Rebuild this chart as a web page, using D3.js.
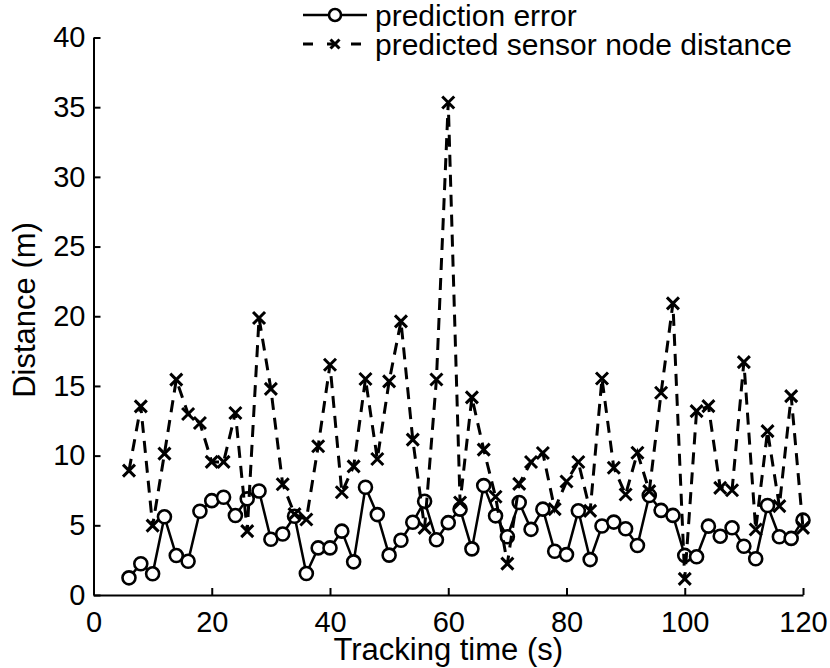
<!DOCTYPE html>
<html>
<head>
<meta charset="utf-8">
<script src="https://cdn.jsdelivr.net/npm/d3@7"></script>
<style>
  body { margin: 0; background: #fff; }
  text { font-family: "Liberation Sans", Arial, sans-serif; fill: #000; }
</style>
</head>
<body>
<div id="chart"></div>
<script>
// tracking time (s)
const time = [6, 8, 10, 12, 14, 16, 18, 20, 22, 24, 26, 28, 30, 32, 34, 36, 38, 40, 42, 44,
              46, 48, 50, 52, 54, 56, 58, 60, 62, 64, 66, 68, 70, 72, 74, 76, 78, 80, 82, 84,
              86, 88, 90, 92, 94, 96, 98, 100, 102, 104, 106, 108, 110, 112, 114, 116, 118, 120];

// prediction error (m)
const predError = [1.23, 2.24, 1.52, 5.61, 2.83, 2.42, 6.01, 6.77, 7.01, 5.70, 6.90, 7.46, 4.00, 4.38, 5.65, 1.54, 3.38, 3.38, 4.58, 2.38,
                   7.73, 5.77, 2.86, 3.93, 5.22, 6.73, 3.96, 5.19, 6.16, 3.31, 7.85, 5.68, 4.18, 6.64, 4.71, 6.16, 3.14, 2.90, 6.04, 2.54,
                   4.95, 5.23, 4.75, 3.55, 7.14, 6.07, 5.71, 2.84, 2.74, 4.94, 4.22, 4.82, 3.50, 2.60, 6.42, 4.18, 4.06, 5.37];

// predicted sensor node distance (m)
const nodeDist = [8.92, 13.53, 4.98, 10.14, 15.45, 12.99, 12.34, 9.55, 9.55, 13.06, 4.58, 19.87, 14.79, 7.95, 5.80, 5.42, 10.67, 16.52, 7.37, 9.23,
                  15.50, 9.76, 15.33, 19.63, 11.15, 4.82, 15.46, 35.34, 6.64, 14.18, 10.43, 7.05, 2.25, 7.97, 9.54, 10.19, 6.16, 8.14, 9.54, 6.04,
                  15.53, 9.13, 7.21, 10.21, 7.45, 14.51, 20.92, 1.16, 13.19, 13.55, 7.69, 7.52, 16.71, 4.70, 11.76, 6.38, 14.27, 4.82];

const xTicks = [0, 20, 40, 60, 80, 100, 120];
const yTicks = [0, 5, 10, 15, 20, 25, 30, 35, 40];
const legendLabels = ["prediction error", "predicted sensor node distance"];

const W = 830, H = 668;
const margin = { top: 37.5, right: 27, bottom: 73, left: 93.5 };

const svg = d3.select("#chart").append("svg")
    .attr("width", W)
    .attr("height", H)
    .style("background", "#fff");

const x = d3.scaleLinear().domain([0, 120]).range([margin.left, W - margin.right]);
const y = d3.scaleLinear().domain([0, 40]).range([H - margin.bottom, margin.top]);

const errData = time.map((t, i) => ({ t: t, v: predError[i] }));
const distData = time.map((t, i) => ({ t: t, v: nodeDist[i] }));

// axes, ticks pointing inward like matlab
const xAxis = svg.append("g")
    .attr("transform", "translate(0," + y(0) + ")")
    .call(d3.axisBottom(x).tickValues(xTicks).tickSizeInner(-7).tickSizeOuter(0).tickPadding(16));

const yAxis = svg.append("g")
    .attr("transform", "translate(" + x(0) + ",0)")
    .call(d3.axisLeft(y).tickValues(yTicks).tickSizeInner(-7).tickSizeOuter(0).tickPadding(8));

[xAxis, yAxis].forEach(a => {
    a.selectAll("path, line").attr("stroke", "#000").attr("stroke-width", 2);
    a.selectAll("text").style("font-size", "29px").attr("fill", "#000");
});

svg.append("text")
    .attr("x", (x(0) + x(120)) / 2)
    .attr("y", 660)
    .attr("text-anchor", "middle")
    .style("font-size", "31px")
    .text("Tracking time (s)");

svg.append("text")
    .attr("transform", "translate(35,310) rotate(-90)")
    .attr("text-anchor", "middle")
    .style("font-size", "31px")
    .text("Distance (m)");

const line = d3.line().x(d => x(d.t)).y(d => y(d.v));

// prediction error: solid with circles
svg.append("path")
    .datum(errData)
    .attr("d", line)
    .attr("fill", "none")
    .attr("stroke", "#000")
    .attr("stroke-width", 2.5);

svg.selectAll(".circ")
    .data(errData)
    .enter()
    .append("circle")
    .attr("class", "circ")
    .attr("cx", d => x(d.t))
    .attr("cy", d => y(d.v))
    .attr("r", 6.5)
    .attr("fill", "#fff")
    .attr("stroke", "#000")
    .attr("stroke-width", 2.6);

// node distance: dashed with crosses
svg.append("path")
    .datum(distData)
    .attr("d", line)
    .attr("fill", "none")
    .attr("stroke", "#000")
    .attr("stroke-width", 3)
    .attr("stroke-dasharray", "12,8");

const cross = "M-6,-6L6,6M-6,6L6,-6";

svg.selectAll(".cross")
    .data(distData)
    .enter()
    .append("path")
    .attr("class", "cross")
    .attr("transform", d => "translate(" + x(d.t) + "," + y(d.v) + ")")
    .attr("d", cross)
    .attr("fill", "none")
    .attr("stroke", "#000")
    .attr("stroke-width", 3);

// legend
const leg = svg.append("g");
const rowY = [15, 44];

leg.append("line")
    .attr("x1", 303).attr("x2", 367)
    .attr("y1", rowY[0]).attr("y2", rowY[0])
    .attr("stroke", "#000").attr("stroke-width", 2.5);
leg.append("circle")
    .attr("cx", 335).attr("cy", rowY[0]).attr("r", 6)
    .attr("fill", "#fff").attr("stroke", "#000").attr("stroke-width", 2.6);

leg.append("line")
    .attr("x1", 303).attr("x2", 367)
    .attr("y1", rowY[1]).attr("y2", rowY[1])
    .attr("stroke", "#000").attr("stroke-width", 3)
    .attr("stroke-dasharray", "10,14");
leg.append("path")
    .attr("transform", "translate(335," + rowY[1] + ")")
    .attr("d", "M-4.5,-4.5L4.5,4.5M-4.5,4.5L4.5,-4.5")
    .attr("fill", "none").attr("stroke", "#000").attr("stroke-width", 3);

leg.selectAll(".legtext")
    .data(legendLabels)
    .enter()
    .append("text")
    .attr("class", "legtext")
    .attr("x", 375)
    .attr("y", (d, i) => rowY[i])
    .attr("dy", "0.35em")
    .style("font-size", "30px")
    .text(d => d);
</script>
</body>
</html>
